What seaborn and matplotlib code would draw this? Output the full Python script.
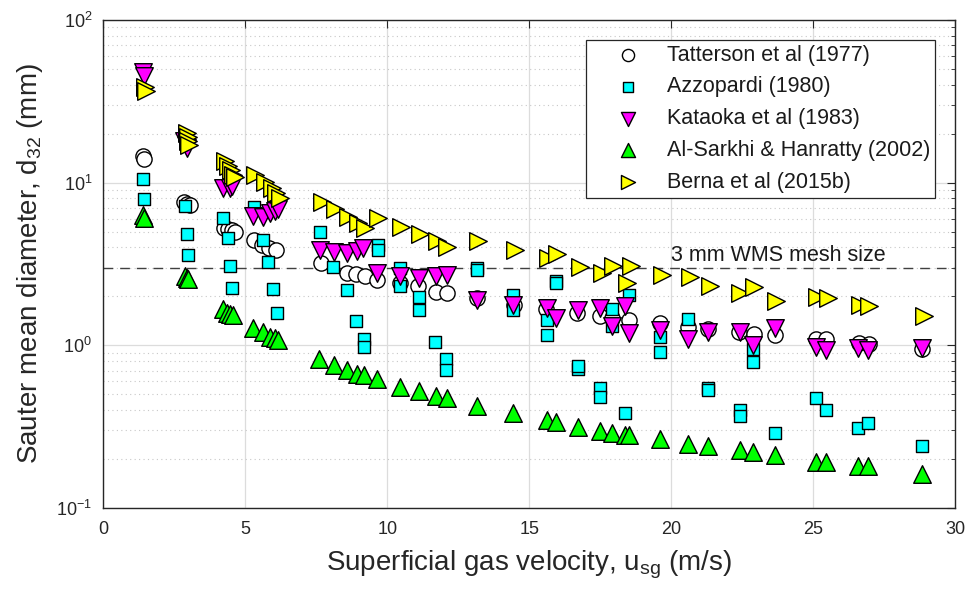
import numpy as np
import pandas as pd
import matplotlib
matplotlib.use("Agg")
import matplotlib.pyplot as plt
import seaborn as sns
from matplotlib.ticker import LogLocator, MultipleLocator, NullFormatter

# ---------------- data ----------------
tat_x = [1.4, 1.45, 2.85, 2.95, 3.05, 4.25, 4.4, 4.55, 4.65, 5.3, 5.6, 5.85, 6.1,
         7.65, 8.6, 8.9, 9.2, 9.65, 10.45, 11.1, 11.7, 12.1, 13.15, 14.45, 15.6,
         16.7, 17.5, 17.9, 18.5, 19.6, 20.6, 21.3, 22.4, 22.9, 23.65, 25.1, 25.45,
         26.6, 26.95, 28.85]
tat_y = [14.5, 14.0, 7.64, 7.4, 7.3, 5.3, 5.2, 5.1, 5.0, 4.45, 4.14, 3.97, 3.86,
         3.2, 2.8, 2.75, 2.67, 2.52, 2.41, 2.3, 2.14, 2.09, 1.95, 1.77, 1.67,
         1.57, 1.52, 1.47, 1.43, 1.38, 1.3, 1.26, 1.2, 1.17, 1.16, 1.09, 1.09,
         1.04, 1.02, 0.95]

azz_x = [1.4, 1.43, 2.88, 2.94, 2.97, 4.23, 4.38, 4.46, 4.52, 5.31, 5.63, 5.81, 5.99,
         6.13, 7.63, 8.1, 8.6, 8.9, 9.18, 9.18, 9.66, 9.66, 10.45, 10.45, 11.13, 11.13,
         11.68, 12.07, 12.07, 13.15, 13.15, 14.44, 14.44, 15.94, 15.94, 15.61, 15.61,
         16.73, 16.73, 17.5, 17.5, 17.9, 17.9, 18.37, 18.52, 19.6, 19.6, 20.6,
         21.3, 21.3, 22.42, 22.42, 22.87, 22.87, 23.65, 25.1, 25.47, 26.58, 26.94, 28.85]
azz_y = [10.6, 7.94, 7.2, 4.82, 3.6, 6.04, 4.55, 3.07, 2.24, 7.06, 4.45, 3.24, 2.21,
         1.59, 5.0, 3.02, 2.19, 1.42, 1.09, 0.98, 4.14, 3.85, 2.98, 2.32, 1.99, 1.65,
         1.05, 0.82, 0.71, 3.0, 2.9, 2.04, 1.65, 2.47, 2.4, 1.43, 1.16,
         0.72, 0.75, 0.55, 0.48, 1.68, 1.32, 0.383, 2.04, 1.13, 0.914, 1.45,
         0.545, 0.53, 0.40, 0.368, 0.946, 0.795, 0.288, 0.473, 0.40, 0.312, 0.332, 0.242]

kat_x = [1.39, 1.42, 2.85, 2.9, 2.95, 4.2, 4.46, 4.55, 5.28, 5.64, 5.87, 6.05, 6.15,
         7.63, 8.13, 8.6, 8.94, 9.15, 9.65, 10.45, 11.13, 11.71, 12.09, 13.15, 14.44,
         15.61, 15.94, 16.73, 17.49, 17.9, 18.37, 18.52, 19.6, 20.6, 21.3, 22.42,
         22.87, 23.65, 25.1, 25.47, 26.58, 26.94, 28.85]
kat_y = [48, 45, 18, 17, 16.3, 9.25, 9.25, 9.6, 6.24, 6.12, 6.48, 6.73, 6.9,
         3.85, 3.76, 3.71, 3.79, 3.95, 2.8, 2.67, 2.61, 2.67, 2.71, 1.9, 1.77,
         1.69, 1.47, 1.65, 1.69, 1.32, 1.75, 1.19, 1.24, 1.09, 1.2, 1.21,
         1.0, 1.27, 0.97, 0.94, 0.96, 0.94, 0.96]

als_x = [1.39, 1.42, 2.88, 2.95, 3.0, 4.2, 4.35, 4.46, 4.58, 5.28, 5.64, 5.87, 6.05,
         6.16, 7.6, 8.13, 8.6, 8.92, 9.18, 9.65, 10.45, 11.13, 11.71, 12.09, 13.15,
         14.44, 15.61, 15.94, 16.73, 17.49, 17.9, 18.37, 18.52, 19.6, 20.6, 21.3,
         22.42, 22.87, 23.65, 25.1, 25.47, 26.58, 26.94, 28.85]
als_y = [6.33, 6.1, 2.67, 2.6, 2.55, 1.67, 1.59, 1.56, 1.54, 1.27, 1.2, 1.13, 1.11,
         1.08, 0.82, 0.76, 0.71, 0.67, 0.66, 0.62, 0.552, 0.527, 0.489, 0.473, 0.425,
         0.383, 0.348, 0.34, 0.316, 0.298, 0.29, 0.281, 0.281, 0.265, 0.248, 0.239,
         0.226, 0.222, 0.212, 0.193, 0.193, 0.181, 0.18, 0.162]

ber_x = [1.47, 1.5, 2.94, 2.98, 3.0, 3.02, 4.29, 4.4, 4.5, 4.58, 4.64, 5.34, 5.7, 5.93,
         6.1, 6.22, 7.69, 8.16, 8.63, 8.98, 9.21, 9.68, 10.5, 11.15, 11.74, 12.09,
         13.2, 14.5, 15.67, 15.99, 16.79, 17.55, 17.96, 18.43, 18.6, 19.66, 20.66,
         21.36, 22.42, 22.91, 23.69, 25.12, 25.53, 26.64, 26.97, 28.9]
ber_y = [38.6, 36.5, 20.1, 19.0, 18.0, 17.0, 13.6, 12.7, 11.9, 11.1, 10.8, 11.1, 10.1, 9.24,
         8.6, 8.0, 7.64, 6.86, 6.18, 5.68, 5.25, 6.04, 5.37, 4.84, 4.4, 4.0,
         4.4, 3.85, 3.43, 3.64, 3.02, 2.77, 3.07, 2.41, 3.07, 2.71, 2.62,
         2.32, 2.09, 2.28, 1.86, 1.98, 1.95, 1.77, 1.75, 1.52]

studies = ["Tatterson et al (1977)", "Azzopardi (1980)", "Kataoka et al (1983)",
           "Al-Sarkhi & Hanratty (2002)", "Berna et al (2015b)"]
xs = [tat_x, azz_x, kat_x, als_x, ber_x]
ys = [tat_y, azz_y, kat_y, als_y, ber_y]

mesh_size = 3.0
mesh_label = "3 mm WMS mesh size"

# ---------------- plot ----------------
sns.set_theme(style="white")
plt.rcParams['font.family'] = ['Liberation Sans', 'DejaVu Sans']
plt.rcParams['mathtext.fontset'] = 'custom'
plt.rcParams['mathtext.rm'] = 'Liberation Sans'
plt.rcParams['mathtext.it'] = 'Liberation Sans:italic'

df = pd.concat([pd.DataFrame({"u": x, "d": y, "study": s})
                for s, x, y in zip(studies, xs, ys)], ignore_index=True)

colors = ["white", "#00FFFF", "#FF00FF", "#00FF00", "#FFFF00"]
markers = ["o", "s", "v", "^", ">"]
sizes = [120, 85, 160, 160, 160]

fig = plt.figure(figsize=(9.68, 5.93), dpi=100)
ax = fig.add_axes([0.1067, 0.1433, 0.8800, 0.8230])

for s, c, m, sz in zip(studies, colors, markers, sizes):
    sub = df[df["study"] == s]
    sns.scatterplot(data=sub, x="u", y="d", ax=ax, marker=m, color=c, s=sz,
                    edgecolor="black", linewidth=1.0, label=s, zorder=3)

ax.axhline(mesh_size, color="#404040", linestyle=(0, (7, 5)), linewidth=1.0, zorder=2)
ax.text(20.0, mesh_size * 1.03, mesh_label, fontsize=15.5, color="#1a1a1a",
        ha="left", va="bottom")

ax.set_yscale("log")
ax.set_xlim(0, 30)
ax.set_ylim(0.1, 100)
ax.xaxis.set_major_locator(MultipleLocator(5))
ax.yaxis.set_major_locator(LogLocator(base=10, numticks=10))
ax.yaxis.set_minor_locator(LogLocator(base=10, subs=np.arange(2, 10), numticks=20))
ax.yaxis.set_minor_formatter(NullFormatter())

ax.grid(True, which="major", axis="both", color="#dcdcdc", linewidth=0.9, linestyle="-")
ax.grid(True, which="minor", axis="y", color="#c8c8c8", linewidth=0.8, linestyle=(0, (1, 3)))
ax.set_axisbelow(True)

for sp in ax.spines.values():
    sp.set_color("#262626")
    sp.set_linewidth(1.0)
    sp.set_visible(True)

ax.tick_params(which="both", direction="in", top=True, right=True, colors="#262626",
               labelsize=13, labelcolor="#262626")
ax.tick_params(which="major", length=6, width=0.8)
ax.tick_params(which="minor", length=3, width=0.6)
ax.tick_params(axis="x", pad=9)
ax.tick_params(axis="y", pad=8)

ax.set_xlabel("Superficial gas velocity, u$_{\\mathregular{sg}}$ (m/s)", fontsize=20,
              color="#262626", labelpad=8)
ax.set_ylabel("Sauter mean diameter, d$_{\\mathregular{32}}$ (mm)", fontsize=20,
              color="#262626", labelpad=8)

leg = ax.legend(loc="upper right", bbox_to_anchor=(0.976, 0.959), borderaxespad=0,
                fontsize=15.5, frameon=True, fancybox=False, framealpha=1,
                edgecolor="#262626", markerscale=0.8, labelspacing=0.5,
                handletextpad=0.05, borderpad=0.22, handlelength=3.45)
leg.get_frame().set_linewidth(0.9)
for t in leg.get_texts():
    t.set_color("#1a1a1a")

fig.savefig("out.png", dpi=100)
